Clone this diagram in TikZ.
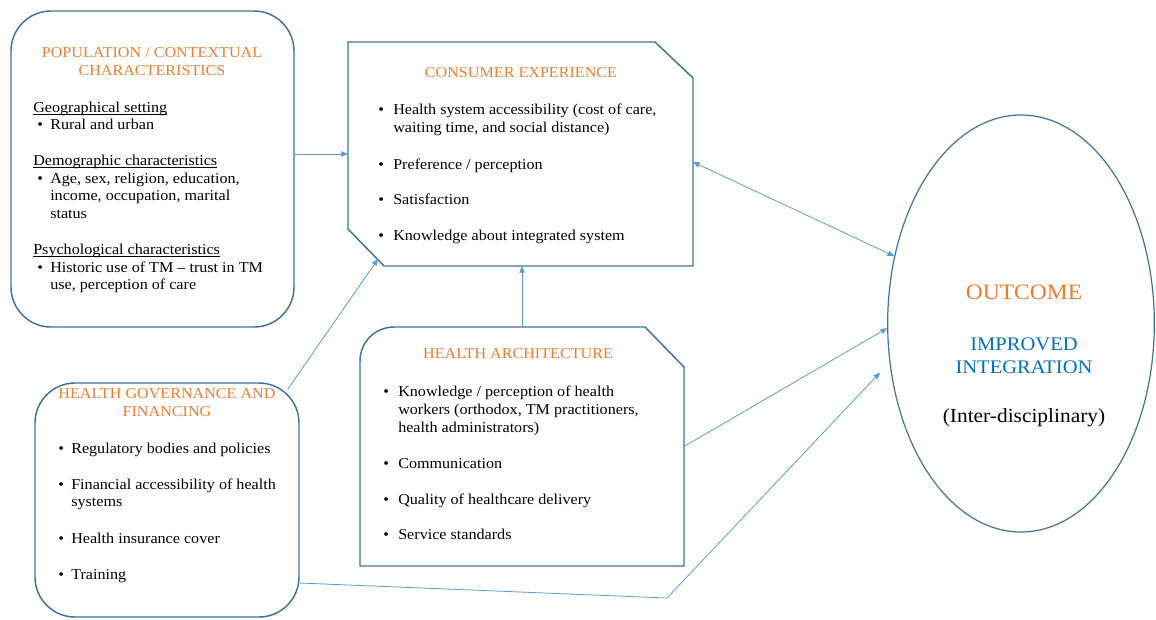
\documentclass[tikz,border=0pt]{standalone}
\usepackage{fontspec}
\setmainfont{Liberation Serif}[FakeStretch=1.07]
\usetikzlibrary{arrows.meta,calc,shapes.geometric}

\definecolor{boxblue}{HTML}{41719C}
\definecolor{arrowblue}{HTML}{5B9BD5}
\definecolor{headorange}{HTML}{ED7D31}
\definecolor{outblue}{HTML}{0070C0}

% bullet item: bullet in a box of width #1, then the (possibly multi-line) text
\newcommand\bitem[2][11.25pt]{\makebox[#1][l]{\textbullet}\begin{tabular}[t]{@{}l@{}}#2\end{tabular}}
\newcommand\itemgap{13.3pt}
% thin underline sitting just below the baseline
\newcommand\subhead[1]{\setbox0\hbox{#1}\rlap{\rule[-1.7pt]{\wd0}{0.5pt}}\box0}

\begin{document}
\begin{tikzpicture}[x=0.75pt,y=-0.75pt,
  box/.style={draw=boxblue, line width=1.1pt},
  frame/.style={draw=none, inner sep=0pt, outer sep=0pt},
  conn/.style={draw=arrowblue, line width=0.6pt, -{Triangle[length=5pt,width=4pt]}},
  twoway/.style={draw=arrowblue, line width=0.6pt, {Triangle[length=5pt,width=4pt]}-{Triangle[length=5pt,width=4pt]}},
  head/.style={text=headorange, align=center, inner sep=0pt, font=\fontsize{11.3}{13.5}\selectfont},
  body/.style={align=left, inner sep=0pt, anchor=north west, font=\fontsize{11.3}{13.3}\selectfont}
]
\useasboundingbox (0,0) rectangle (1156,619);

% ---------- boxes ----------
\node[box, rounded corners=30pt, inner sep=0pt, minimum width=212.25pt, minimum height=237pt] (pop) at (152.5,169) {};
\node[box, rounded corners=30pt, inner sep=0pt, minimum width=198pt, minimum height=175.5pt] (gov) at (167,500) {};

\node[frame, minimum width=258.75pt, minimum height=168pt] (cons) at (520.5,154) {};
\draw[box] (cons.north west) -- ($(cons.north east)+(-38,0)$) -- ($(cons.north east)+(0,36)$)
  -- (cons.south east) -- ($(cons.south west)+(36,0)$) -- ($(cons.south west)+(0,-37)$) -- cycle;

\node[frame, minimum width=243pt, minimum height=179.25pt] (arch) at (522,446.5) {};
\draw[box] (arch.south west) -- ($(arch.north west)+(0,34)$)
  .. controls ($(arch.north west)+(0,15)$) and ($(arch.north west)+(15,0)$) .. ($(arch.north west)+(34,0)$)
  -- ($(arch.north east)+(-39,0)$) -- ($(arch.north east)+(0,40)$) -- (arch.south east) -- cycle;

\node[ellipse, draw=boxblue, line width=0.9pt, inner sep=0pt, minimum width=200pt, minimum height=312.75pt] (out) at (1021,323.5) {};

% ---------- titles ----------
\node[head] (popT) at (152,62) {POPULATION / CONTEXTUAL\\CHARACTERISTICS};
\node[head] (consT) at (521,73) {CONSUMER EXPERIENCE};
\node[head] (archT) at (518,354) {HEALTH ARCHITECTURE};
\node[head] (govT) at (167,403) {HEALTH GOVERNANCE AND\\FINANCING};

% ---------- contents ----------
\node[body] (popB) at (33,101.5) {%
  \subhead{Geographical setting}\\
  \hspace*{3pt}\bitem[9.75pt]{Rural and urban}\\[\itemgap]
  \subhead{Demographic characteristics}\\
  \hspace*{3pt}\bitem[9.75pt]{Age, sex, religion, education,\\income, occupation, marital\\status}\\[14pt]
  \subhead{Psychological characteristics}\\
  \hspace*{3pt}\bitem[9.75pt]{Historic use of TM -- trust in TM\\use, perception of care}};

\node[body] (consB) at (378,102) {%
  \bitem{Health system accessibility (cost of care,\\waiting time, and social distance)}\\[\itemgap]
  \bitem{Preference / perception}\\[\itemgap]
  \bitem{Satisfaction}\\[\itemgap]
  \bitem{Knowledge about integrated system}};

\node[body] (archB) at (383,384) {%
  \bitem{Knowledge / perception of health\\workers (orthodox, TM practitioners,\\health administrators)}\\[\itemgap]
  \bitem{Communication}\\[\itemgap]
  \bitem{Quality of healthcare delivery}\\[\itemgap]
  \bitem{Service standards}};

\node[body] (govB) at (58,441) {%
  \bitem[9.75pt]{Regulatory bodies and policies}\\[\itemgap]
  \bitem[9.75pt]{Financial accessibility of health\\systems}\\[\itemgap]
  \bitem[9.75pt]{Health insurance cover}\\[\itemgap]
  \bitem[9.75pt]{Training}};

\node[inner sep=0pt, text=headorange, font=\fontsize{16.5}{18}\selectfont] (outT) at (1024,292) {OUTCOME};
\node[inner sep=0pt, text=outblue, align=center, font=\fontsize{14.4}{17.5}\selectfont] (outM) at (1024,356) {IMPROVED\\INTEGRATION};
\node[inner sep=0pt, font=\fontsize{15}{16}\selectfont] (outS) at (1024,418) {(Inter-disciplinary)};

% ---------- connectors ----------
\draw[conn] (pop.east |- cons.west) -- (cons.west);
\draw[conn] ($(gov.north east)+(-12,7)$) -- ($(cons.south west)+(30,-7)$);
\draw[conn] (arch.north) -- (arch.north |- cons.south);
\draw[twoway] ($(cons.east)+(0,8)$) -- (out.152);
\draw[conn] (arch.east) -- (out.182);
\draw[conn] ($(gov.east)+(0,83)$) -- ($(arch.south east)+(-17,32)$) -- ($(out.west)+(-7,49)$);
\end{tikzpicture}
\end{document}
